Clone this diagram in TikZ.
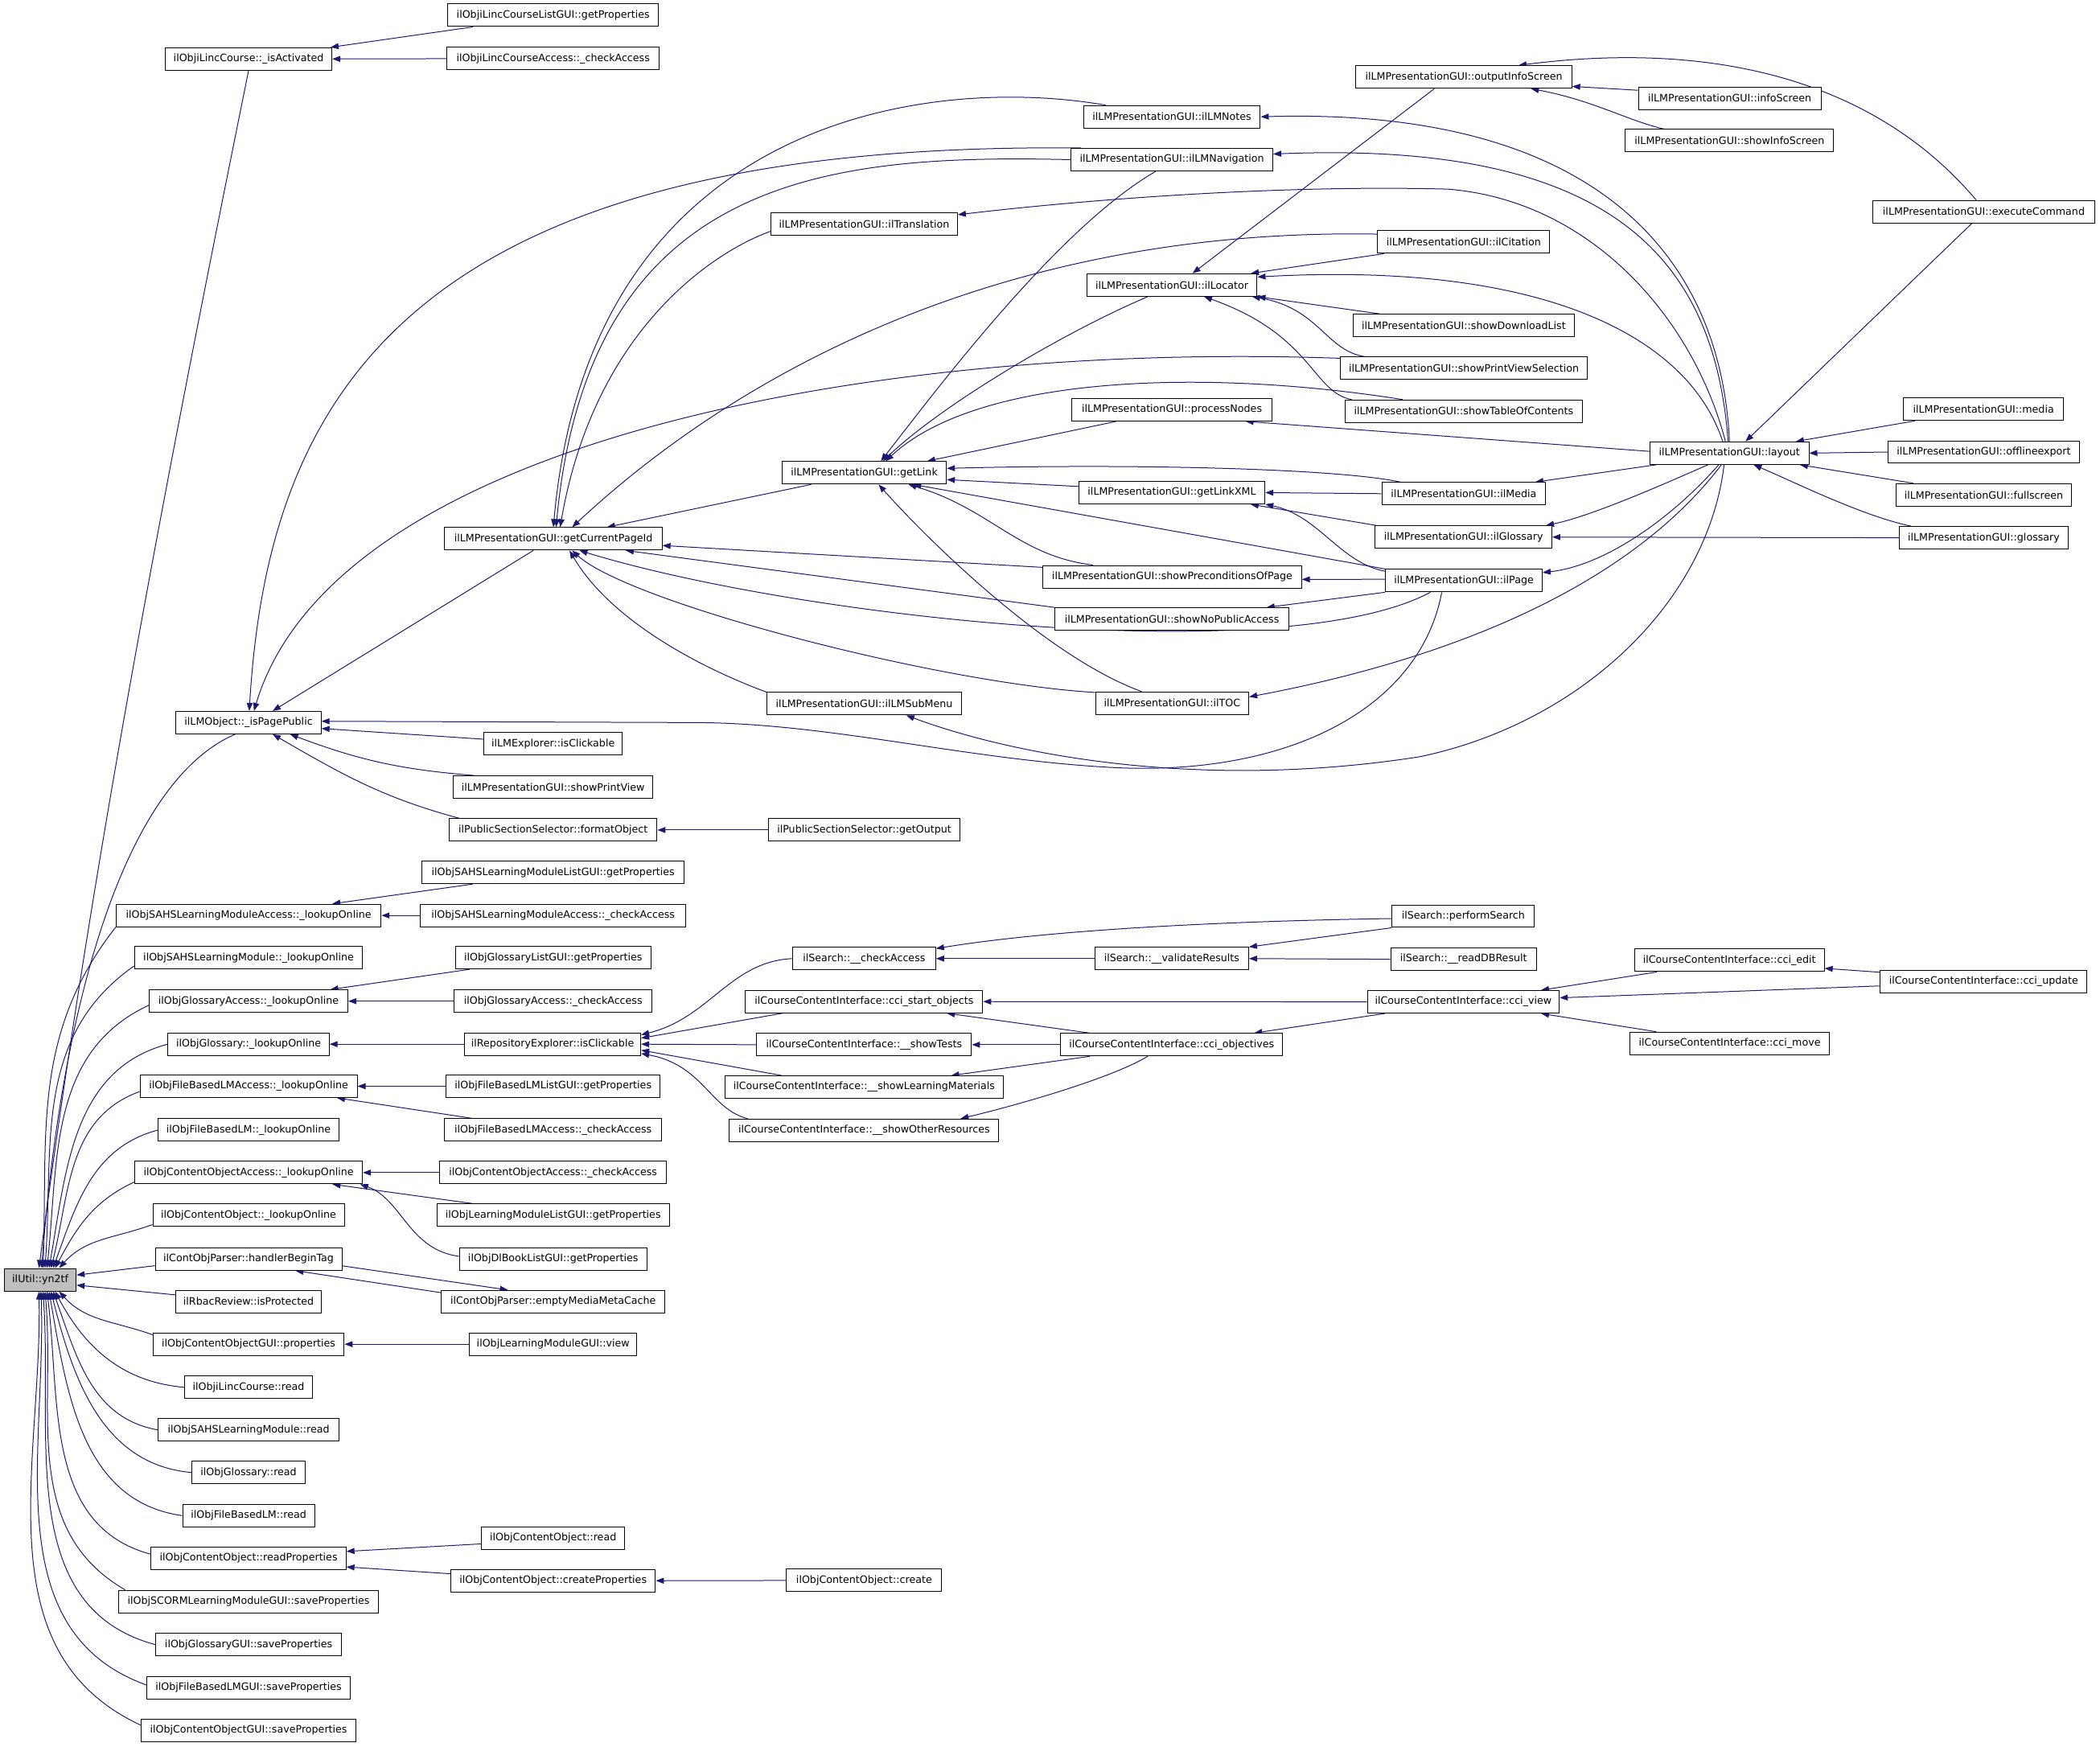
\documentclass[tikz,border=0pt]{standalone}
\usepackage{fontspec}
\setmainfont{DejaVu Sans}
\usetikzlibrary{arrows.meta}
\definecolor{edgec}{HTML}{191970}
\definecolor{yfill}{HTML}{BFBFBF}
\pgfdeclarelayer{bg}
\pgfsetlayers{bg,main}
\newcommand\mknode[5]{\node[box,minimum width=#4pt] (#1) at (#2,-#3) {#5};}
\tikzset{
 box/.style={draw=black, line width=0.6pt, fill=white, inner sep=0pt, minimum height=16.8pt, font=\fontsize{7.6}{9}\selectfont, text=black},
 cedge/.style={draw=edgec, line width=0.6pt, -{Triangle[length=6pt,width=4.4pt]}, edgec},
}
\begin{document}
\begin{tikzpicture}[x=1pt,y=1pt]
\useasboundingbox (0,0) rectangle (1568,-1304);
% root
\node[box,fill=yfill,minimum width=53.5pt] (yn2tf) at (30.1,-955.5) {ilUtil::yn2tf};
% column 1
\mknode{isAct}{185.6}{44}{124.4}{ilObjiLincCourse::\_isActivated}
\mknode{isPP}{185.6}{539.5}{108.3}{ilLMObject::\_isPagePublic}
\mknode{sahsAccLO}{185.6}{683.5}{197.8}{ilObjSAHSLearningModuleAccess::\_lookupOnline}
\mknode{sahsLO}{185.6}{715.2}{170.3}{ilObjSAHSLearningModule::\_lookupOnline}
\mknode{glAccLO}{185.6}{747.5}{148.3}{ilObjGlossaryAccess::\_lookupOnline}
\mknode{glLO}{185.6}{779.6}{120.3}{ilObjGlossary::\_lookupOnline}
\mknode{fbAccLO}{185.6}{811}{162.1}{ilObjFileBasedLMAccess::\_lookupOnline}
\mknode{fbLO}{185.6}{843.7}{134.8}{ilObjFileBasedLM::\_lookupOnline}
\mknode{coAccLO}{185.6}{875.5}{170}{ilObjContentObjectAccess::\_lookupOnline}
\mknode{coLO}{185.6}{907.3}{143}{ilObjContentObject::\_lookupOnline}
\mknode{cpHBT}{185.6}{940}{139.3}{ilContObjParser::handlerBeginTag}
\mknode{rbac}{185.6}{971.8}{108.2}{ilRbacReview::isProtected}
\mknode{coGUIprop}{185.6}{1003.6}{142.7}{ilObjContentObjectGUI::properties}
\mknode{ilcRead}{185.6}{1035.8}{95.5}{ilObjiLincCourse::read}
\mknode{sahsRead}{185.6}{1067.6}{134.8}{ilObjSAHSLearningModule::read}
\mknode{glRead}{185.6}{1099.4}{84.4}{ilObjGlossary::read}
\mknode{fbRead}{185.6}{1131.6}{98.5}{ilObjFileBasedLM::read}
\mknode{coReadProp}{185.6}{1163.4}{145.5}{ilObjContentObject::readProperties}
\mknode{scormSave}{185.6}{1195.7}{193.7}{ilObjSCORMLearningModuleGUI::saveProperties}
\mknode{glGUISave}{185.6}{1227.9}{138.6}{ilObjGlossaryGUI::saveProperties}
\mknode{fbGUISave}{185.6}{1260}{152.3}{ilObjFileBasedLMGUI::saveProperties}
\mknode{coGUISave}{185.6}{1292}{160.6}{ilObjContentObjectGUI::saveProperties}
% column 2
\mknode{ilcListGP}{413}{11.4}{157.1}{ilObjiLincCourseListGUI::getProperties}
\mknode{ilcAccCA}{413}{43.8}{158.5}{ilObjiLincCourseAccess::\_checkAccess}
\mknode{getCPI}{413.2}{402.3}{162.3}{ilLMPresentationGUI::getCurrentPageId}
\mknode{lmExpl}{413}{555.3}{103.5}{ilLMExplorer::isClickable}
\mknode{showPV}{413}{587.7}{148.9}{ilLMPresentationGUI::showPrintView}
\mknode{formatObj}{413}{619.7}{155.1}{ilPublicSectionSelector::formatObject}
\mknode{sahsListGP}{413}{651.4}{195.7}{ilObjSAHSLearningModuleListGUI::getProperties}
\mknode{sahsAccCA}{413}{683.5}{197.9}{ilObjSAHSLearningModuleAccess::\_checkAccess}
\mknode{glListGP}{413}{715}{145.8}{ilObjGlossaryListGUI::getProperties}
\mknode{glAccCA}{413}{747.5}{147.9}{ilObjGlossaryAccess::\_checkAccess}
\mknode{repoClick}{412.6}{779.6}{131.6}{ilRepositoryExplorer::isClickable}
\mknode{fbListGP}{413}{811}{160}{ilObjFileBasedLMListGUI::getProperties}
\mknode{fbAccCA}{413}{843.7}{162}{ilObjFileBasedLMAccess::\_checkAccess}
\mknode{coAccCA}{413}{875.5}{169.5}{ilObjContentObjectAccess::\_checkAccess}
\mknode{lmListGP}{413}{907.3}{173.7}{ilObjLearningModuleListGUI::getProperties}
\mknode{dlbook}{413}{940}{140}{ilObjDlBookListGUI::getProperties}
\mknode{emptyMMC}{413}{971.8}{167.2}{ilContObjParser::emptyMediaMetaCache}
\mknode{lmGUIview}{413}{1003.6}{125.1}{ilObjLearningModuleGUI::view}
\mknode{coRead}{413}{1148.4}{106.9}{ilObjContentObject::read}
\mknode{createProp}{413}{1180.2}{152.7}{ilObjContentObject::createProperties}
% column 3
\mknode{ilTransl}{645.3}{167.3}{139.2}{ilLMPresentationGUI::ilTranslation}
\mknode{getLink}{645.3}{353}{122.7}{ilLMPresentationGUI::getLink}
\mknode{subMenu}{645.3}{525.4}{145.4}{ilLMPresentationGUI::ilLMSubMenu}
\mknode{getOutput}{645.3}{619.7}{143.4}{ilPublicSectionSelector::getOutput}
\mknode{srchCA}{645.2}{715.7}{106.8}{ilSearch::\_\_checkAccess}
\mknode{cciStart}{645.2}{747.8}{177.2}{ilCourseContentInterface::cci\_start\_objects}
\mknode{showTests}{645.2}{780}{160.3}{ilCourseContentInterface::\_\_showTests}
\mknode{showLM}{645.2}{811.7}{208.2}{ilCourseContentInterface::\_\_showLearningMaterials}
\mknode{showOR}{645.2}{843.9}{201.3}{ilCourseContentInterface::\_\_showOtherResources}
\mknode{coCreate}{645.2}{1180}{116}{ilObjContentObject::create}
% column 4
\mknode{lmNotes}{875}{87.2}{132}{ilLMPresentationGUI::ilLMNotes}
\mknode{lmNav}{875}{119.2}{150.6}{ilLMPresentationGUI::ilLMNavigation}
\mknode{locator}{875}{212.8}{127.2}{ilLMPresentationGUI::ilLocator}
\mknode{procNodes}{875}{305.9}{149.3}{ilLMPresentationGUI::processNodes}
\mknode{getLinkXML}{875}{367.8}{138.9}{ilLMPresentationGUI::getLinkXML}
\mknode{showPrecond}{875.2}{430.6}{193}{ilLMPresentationGUI::showPreconditionsOfPage}
\mknode{showNoPub}{875}{462.2}{174.8}{ilLMPresentationGUI::showNoPublicAccess}
\mknode{ilTOC}{875.2}{525}{114.4}{ilLMPresentationGUI::ilTOC}
\mknode{validRes}{874.9}{715.7}{114.8}{ilSearch::\_\_validateResults}
\mknode{cciObj}{874.9}{780}{165.8}{ilCourseContentInterface::cci\_objectives}
% column 5
\mknode{outInfo}{1093}{57.5}{161.1}{ilLMPresentationGUI::outputInfoScreen}
\mknode{ilCitation}{1092.9}{180.7}{128.5}{ilLMPresentationGUI::ilCitation}
\mknode{showDL}{1092.9}{243}{165.1}{ilLMPresentationGUI::showDownloadList}
\mknode{showPVS}{1093}{275}{184}{ilLMPresentationGUI::showPrintViewSelection}
\mknode{showTOC}{1092.9}{307}{176.8}{ilLMPresentationGUI::showTableOfContents}
\mknode{ilMedia}{1092.9}{368.6}{122.3}{ilLMPresentationGUI::ilMedia}
\mknode{ilGlossary}{1092.8}{401}{131.8}{ilLMPresentationGUI::ilGlossary}
\mknode{ilPage}{1093}{433.5}{117}{ilLMPresentationGUI::ilPage}
\mknode{perfSearch}{1092.6}{684}{106.4}{ilSearch::performSearch}
\mknode{readDB}{1092.8}{716.2}{108.9}{ilSearch::\_\_readDBResult}
\mknode{cciView}{1092.6}{748}{143.4}{ilCourseContentInterface::cci\_view}
% column 6
\mknode{infoScreen}{1291.5}{73.3}{136.3}{ilLMPresentationGUI::infoScreen}
\mknode{showInfo}{1291.4}{105}{155.6}{ilLMPresentationGUI::showInfoScreen}
\mknode{layout}{1291.3}{338.3}{118.6}{ilLMPresentationGUI::layout}
\mknode{cciEdit}{1291.3}{717}{141.6}{ilCourseContentInterface::cci\_edit}
\mknode{cciMove}{1291.5}{779}{149}{ilCourseContentInterface::cci\_move}
% column 7
\mknode{execCmd}{1481.2}{158}{165.6}{ilLMPresentationGUI::executeCommand}
\mknode{media}{1481}{305.5}{119.3}{ilLMPresentationGUI::media}
\mknode{offline}{1481.2}{337.5}{142.6}{ilLMPresentationGUI::offlineexport}
\mknode{fullscreen}{1481.2}{369.5}{131.4}{ilLMPresentationGUI::fullscreen}
\mknode{glossary}{1481.2}{401.5}{126.4}{ilLMPresentationGUI::glossary}
\mknode{cciUpdate}{1481.1}{732.8}{154.2}{ilCourseContentInterface::cci\_update}

\begin{pgfonlayer}{bg}
% ---- into ilUtil::yn2tf
\draw[cedge] (isAct.south) .. controls (125,-352) and (68,-647) .. ([xshift=-1pt]yn2tf.north);
\draw[cedge] ([xshift=-10pt]isPP.south) .. controls (90,-585) and (45,-760) .. ([xshift=1pt]yn2tf.north);
\draw[cedge] (sahsAccLO.south west) to[out=232,in=88] ([xshift=2pt]yn2tf.north);
\draw[cedge] ([yshift=-6pt]sahsLO.west) to[out=215,in=86] ([xshift=3.5pt]yn2tf.north);
\draw[cedge] ([yshift=-3pt]glAccLO.west) to[out=205,in=84] ([xshift=5pt]yn2tf.north);
\draw[cedge] (glLO.west) to[out=195,in=80] ([xshift=6.5pt]yn2tf.north);
\draw[cedge] ([yshift=-4pt]fbAccLO.west) to[out=200,in=76] ([xshift=8pt]yn2tf.north);
\draw[cedge] (fbLO.west) to[out=195,in=70] ([xshift=9.5pt]yn2tf.north);
\draw[cedge] ([yshift=-7pt]coAccLO.west) to[out=205,in=62] ([xshift=11pt]yn2tf.north);
\draw[cedge] ([yshift=-7pt]coLO.west) to[out=200,in=48] ([xshift=14pt]yn2tf.north);
\draw[cedge] ([yshift=-5pt]cpHBT.west) -- ([yshift=3.5pt]yn2tf.east);
\draw[cedge] ([yshift=5pt]rbac.west) -- ([yshift=-4pt]yn2tf.east);
\draw[cedge] ([yshift=7pt]coGUIprop.west) to[out=160,in=-48] ([xshift=14pt]yn2tf.south);
\draw[cedge] (ilcRead.west) to[out=175,in=-62] ([xshift=11pt]yn2tf.south);
\draw[cedge] (sahsRead.west) to[out=170,in=-70] ([xshift=9.5pt]yn2tf.south);
\draw[cedge] (glRead.west) to[out=175,in=-76] ([xshift=8pt]yn2tf.south);
\draw[cedge] (fbRead.west) to[out=172,in=-80] ([xshift=6.5pt]yn2tf.south);
\draw[cedge] ([yshift=3pt]coReadProp.west) to[out=165,in=-83] ([xshift=5pt]yn2tf.south);
\draw[cedge] ([xshift=5pt]scormSave.north west) to[out=150,in=-85] ([xshift=3.5pt]yn2tf.south);
\draw[cedge] (glGUISave.west) to[out=165,in=-86] ([xshift=2pt]yn2tf.south);
\draw[cedge] ([yshift=2pt]fbGUISave.west) to[out=160,in=-88] ([xshift=0.5pt]yn2tf.south);
\draw[cedge] ([yshift=4pt]coGUISave.west) to[out=155,in=-89] ([xshift=-1pt]yn2tf.south);
% ---- column 2 into column 1
\draw[cedge] ([xshift=19pt]ilcListGP.south west) -- ([xshift=-1.3pt]isAct.north east);
\draw[cedge] (ilcAccCA.west) -- (isAct.east);
\draw[cedge] ([xshift=-15pt]getCPI.south) -- ([xshift=18pt]isPP.north);
\draw[cedge] ([yshift=3.4pt]lmExpl.west) -- ([yshift=-4.4pt]isPP.east);
\draw[cedge] ([xshift=16pt]showPV.north west) to[bend left=8] ([xshift=31pt]isPP.south);
\draw[cedge] ([xshift=8pt]formatObj.north west) to[out=165,in=-30] ([xshift=18pt]isPP.south);
\draw[cedge] (getOutput.west) -- (formatObj.east);
\draw[cedge] ([xshift=38pt]sahsListGP.south west) -- ([xshift=62.5pt]sahsAccLO.north);
\draw[cedge] (sahsAccCA.west) -- (sahsAccLO.east);
\draw[cedge] ([xshift=11pt]glListGP.south west) -- ([xshift=61pt]glAccLO.north);
\draw[cedge] (glAccCA.west) -- (glAccLO.east);
\draw[cedge] (repoClick.west) -- (glLO.east);
\draw[cedge] (fbListGP.west) -- (fbAccLO.east);
\draw[cedge] ([xshift=21pt]fbAccCA.north west) -- ([xshift=66pt]fbAccLO.south);
\draw[cedge] (coAccCA.west) -- (coAccLO.east);
\draw[cedge] ([xshift=27pt]lmListGP.north west) -- ([xshift=62.6pt]coAccLO.south);
\draw[cedge] ([yshift=2pt]dlbook.west) .. controls (305,-933) and (300,-895) .. ([xshift=-2pt]coAccLO.south east);
\draw[cedge] ([yshift=-5.1pt]cpHBT.east) -- ([xshift=-33.8pt]emptyMMC.north);
\draw[cedge] ([yshift=-2pt]emptyMMC.north west) -- ([xshift=35pt]cpHBT.south);
\draw[cedge] (lmGUIview.west) -- (coGUIprop.east);
\draw[cedge] ([yshift=-4.3pt]coRead.west) -- ([yshift=5.1pt]coReadProp.east);
\draw[cedge] ([yshift=5.2pt]createProp.west) -- ([yshift=-6.5pt]coReadProp.east);
\draw[cedge] (coCreate.west) -- (createProp.east);
% ---- into getCurrentPageId
\draw[cedge] ([xshift=17pt]lmNotes.north west) .. controls (690,-55) and (440,-90) .. (getCPI.north);
\draw[cedge] (lmNav.west) .. controls (620,-115) and (440,-130) .. ([xshift=2pt]getCPI.north);
\draw[cedge] ([yshift=-5.4pt]ilTransl.west) .. controls (540,-185) and (445,-240) .. ([xshift=5pt]getCPI.north);
\draw[cedge] ([yshift=5.9pt]ilCitation.west) .. controls (760,-170) and (560,-270) .. ([xshift=14pt]getCPI.north);
\draw[cedge] ([xshift=22pt]getLink.south west) -- ([xshift=40pt]getCPI.north);
\draw[cedge] ([yshift=7pt]showPrecond.west) -- ([yshift=-5pt]getCPI.east);
\draw[cedge] (showNoPub.north west) -- ([xshift=54pt]getCPI.south);
\draw[cedge] ([xshift=-25pt]ilPage.south) .. controls (960,-500) and (600,-462) .. ([xshift=19.4pt]getCPI.south);
\draw[cedge] ([yshift=8pt]ilTOC.west) .. controls (700,-510) and (470,-450) .. ([xshift=14pt]getCPI.south);
\draw[cedge] (subMenu.north west) .. controls (540,-505) and (460,-470) .. ([xshift=12pt]getCPI.south);
% ---- long curves into _isPagePublic
\draw[cedge] ([xshift=8pt]lmNav.north west) .. controls (300,-105) and (200,-300) .. ([xshift=0.5pt]isPP.north);
\draw[cedge] ([yshift=7.5pt]showPVS.west) .. controls (650,-255) and (250,-330) .. ([xshift=4pt]isPP.north);
\draw[cedge] ([xshift=-16.5pt]ilPage.south) .. controls (1060,-530) and (960,-580) .. (830,-573) .. controls (720,-567) and (620,-540) .. (520,-539.5) -- ([yshift=1pt]isPP.east);
% ---- into getLink
\draw[cedge] ([xshift=-12pt]lmNav.south) .. controls (790,-170) and (700,-290) .. ([xshift=12.4pt]getLink.north);
\draw[cedge] ([xshift=-18pt]locator.south) .. controls (790,-250) and (700,-305) .. ([xshift=14pt]getLink.north);
\draw[cedge] ([xshift=-45.7pt]showTOC.north) .. controls (900,-275) and (730,-280) .. ([xshift=16pt]getLink.north);
\draw[cedge] ([xshift=-41.5pt]procNodes.south) -- ([xshift=47pt]getLink.north);
\draw[cedge] ([xshift=-47.4pt]ilMedia.north) .. controls (1000,-350) and (850,-346) .. ([yshift=3.3pt]getLink.east);
\draw[cedge] ([yshift=4.6pt]getLinkXML.west) -- ([yshift=-5.1pt]getLink.east);
\draw[cedge] ([xshift=-59pt]showPrecond.north) .. controls (760,-415) and (740,-380) .. ([xshift=33pt]getLink.south);
\draw[cedge] (ilPage.north west) -- ([xshift=36.5pt]getLink.south);
\draw[cedge] ([xshift=-22.8pt]ilTOC.north) .. controls (780,-490) and (690,-400) .. ([xshift=10.7pt]getLink.south);
% ---- into ilLocator
\draw[cedge] ([xshift=-22pt]outInfo.south) -- ([xshift=15.4pt]locator.north);
\draw[cedge] ([xshift=5pt]ilCitation.south west) -- ([xshift=-5pt]locator.north east);
\draw[cedge] ([xshift=-5pt]layout.north) .. controls (1260,-250) and (1150,-195) .. ([yshift=6pt]locator.east);
\draw[cedge] ([xshift=20pt]showDL.north west) -- (locator.south east);
\draw[cedge] ([xshift=18.6pt]showPVS.north west) .. controls (990,-262) and (985,-230) .. ([xshift=-4pt]locator.south east);
\draw[cedge] ([xshift=5pt]showTOC.north west) .. controls (980,-293) and (980,-250) .. ([xshift=24pt]locator.south);
% ---- from layout
\draw[cedge] (layout.north) .. controls (1285,-190) and (1190,-80) .. (lmNotes.east);
\draw[cedge] ([xshift=-1pt]layout.north) .. controls (1280,-190) and (1200,-105) .. ([yshift=4.2pt]lmNav.east);
\draw[cedge] ([xshift=-3pt]layout.north) .. controls (1265,-240) and (1190,-150) .. (1081,-141.2) .. controls (960,-138) and (820,-148) .. ([yshift=7pt]ilTransl.east);
\draw[cedge] ([yshift=1.3pt]layout.west) -- ([xshift=55pt]procNodes.south);
\draw[cedge] ([xshift=5pt]layout.south west) -- ([xshift=-8pt]ilMedia.north east);
\draw[cedge] ([xshift=-16pt]layout.south) .. controls (1250,-358) and (1190,-385) .. ([xshift=-4.7pt]ilGlossary.north east);
\draw[cedge] ([xshift=-8pt]layout.south) .. controls (1250,-385) and (1200,-422) .. ([yshift=6pt]ilPage.east);
\draw[cedge] ([xshift=-6pt]layout.south) .. controls (1230,-420) and (1120,-485) .. ([yshift=4.7pt]ilTOC.east);
\draw[cedge] ([xshift=-4pt]layout.south) .. controls (1275,-450) and (1180,-540) .. (1060,-565) .. controls (900,-590) and (760,-565) .. ([xshift=31.4pt]subMenu.south);
% ---- into layout
\draw[cedge] ([xshift=-8.8pt]execCmd.south) -- ([xshift=12pt]layout.north);
\draw[cedge] ([xshift=9pt]media.south west) -- ([xshift=-10pt]layout.north east);
\draw[cedge] (offline.west) -- (layout.east);
\draw[cedge] ([xshift=13.4pt]fullscreen.north west) -- ([xshift=-7pt]layout.south east);
\draw[cedge] ([xshift=9pt]glossary.north west) .. controls (1390,-385) and (1340,-360) .. ([xshift=18pt]layout.south);
\draw[cedge] (glossary.west) -- (ilGlossary.east);
% ---- into outputInfoScreen
\draw[cedge] ([xshift=-5.7pt]execCmd.north) .. controls (1400,-60) and (1280,-30) .. ([xshift=40.8pt]outInfo.north);
\draw[cedge] ([yshift=5.9pt]infoScreen.west) -- ([yshift=-7pt]outInfo.east);
\draw[cedge] ([xshift=29pt]showInfo.north west) .. controls (1215,-90) and (1190,-75) .. ([xshift=50pt]outInfo.south);
% ---- getLinkXML, showPreconditionsOfPage, showNoPublicAccess
\draw[cedge] (ilMedia.west) -- (getLinkXML.east);
\draw[cedge] ([xshift=1pt]ilGlossary.north west) -- ([xshift=-11pt]getLinkXML.south east);
\draw[cedge] ([yshift=7pt]ilPage.west) .. controls (1000,-420) and (985,-385) .. (getLinkXML.south east);
\draw[cedge] ([yshift=1pt]ilPage.west) -- ([yshift=-2pt]showPrecond.east);
\draw[cedge] (ilPage.south west) -- ([xshift=-17pt]showNoPub.north east);
% ---- lower middle
\draw[cedge] (srchCA.west) .. controls (545,-718) and (530,-760) .. ([yshift=7pt]repoClick.east);
\draw[cedge] ([xshift=28pt]cciStart.south west) -- ([yshift=4.5pt]repoClick.east);
\draw[cedge] (showTests.west) -- (repoClick.east);
\draw[cedge] ([xshift=43pt]showLM.north west) -- ([yshift=-4.5pt]repoClick.east);
\draw[cedge] ([xshift=14pt]showOR.north west) .. controls (530,-828) and (525,-795) .. ([yshift=-7pt]repoClick.east);
\draw[cedge] ([yshift=-1.8pt]perfSearch.west) .. controls (900,-688) and (780,-695) .. ([yshift=7.5pt]srchCA.east);
\draw[cedge] (validRes.west) -- (srchCA.east);
\draw[cedge] (perfSearch.south west) -- (validRes.north east);
\draw[cedge] (readDB.west) -- (validRes.east);
\draw[cedge] (cciView.west) -- (cciStart.east);
\draw[cedge] ([xshift=22pt]cciObj.north west) -- ([xshift=61.7pt]cciStart.south);
\draw[cedge] (cciObj.west) -- (showTests.east);
\draw[cedge] ([xshift=22pt]cciObj.south west) -- ([xshift=65pt]showLM.north);
\draw[cedge] ([xshift=-18pt]cciObj.south) .. controls (830,-805) and (760,-825) .. ([xshift=72pt]showOR.north);
\draw[cedge] ([xshift=13.4pt]cciView.south west) -- ([xshift=-21.7pt]cciObj.north east);
\draw[cedge] ([xshift=17pt]cciEdit.south west) -- ([xshift=-14pt]cciView.north east);
\draw[cedge] ([yshift=-3.3pt]cciUpdate.west) -- ([yshift=3pt]cciView.east);
\draw[cedge] ([xshift=20pt]cciMove.north west) -- ([xshift=-14pt]cciView.south east);
\draw[cedge] ([yshift=-1.8pt]cciUpdate.north west) -- ([yshift=-6pt]cciEdit.east);
\end{pgfonlayer}
\end{tikzpicture}
\end{document}
